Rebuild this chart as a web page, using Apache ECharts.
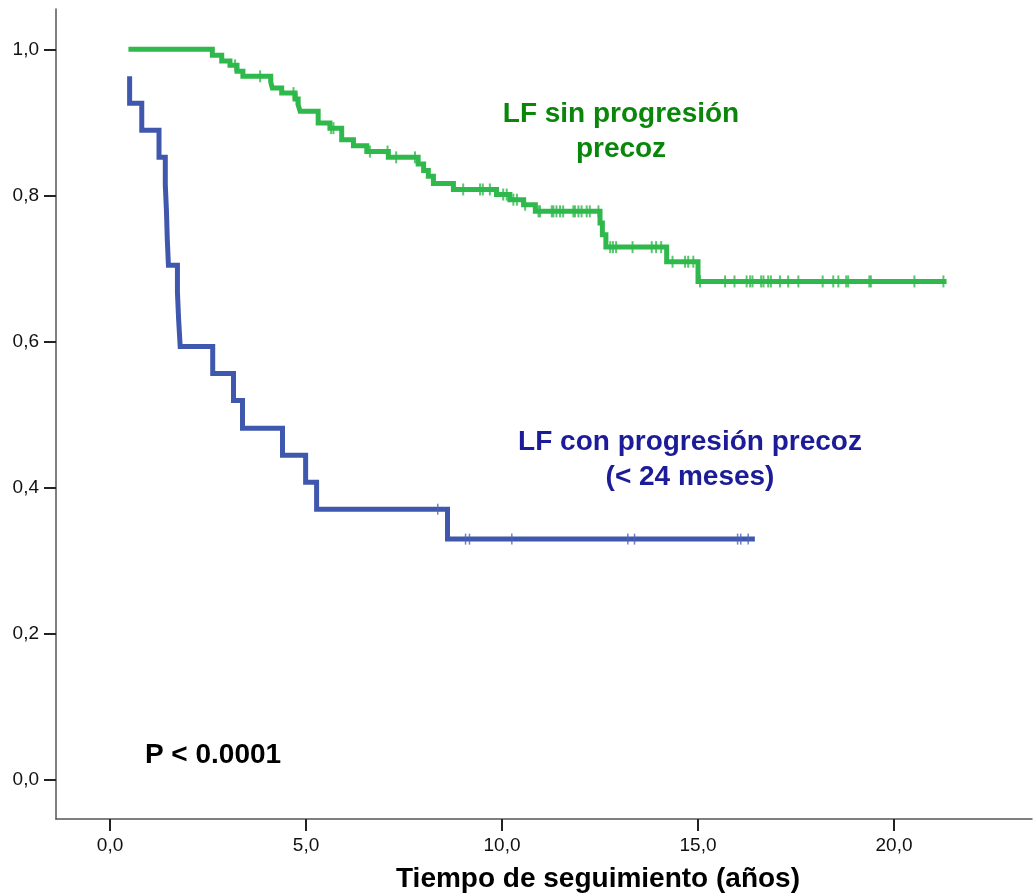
<!DOCTYPE html>
<html>
<head>
<meta charset="utf-8">
<script src="https://cdn.jsdelivr.net/npm/echarts@6/dist/echarts.min.js"></script>
<style>
  html, body { margin: 0; padding: 0; background: #fff; }
  #chart { width: 1035px; height: 893px; }
</style>
</head>
<body>
<div id="chart"></div>
<script>
// Axis ticks
const xTicks = [0, 5, 10, 15, 20];
const yTicks = [0, 0.2, 0.4, 0.6, 0.8, 1.0];

// Kaplan-Meier steps: LF sin progresión precoz (time in years, survival after each step)
const noProgTimes = [0.47, 2.61, 2.85, 3.06, 3.24, 3.39, 4.10, 4.14, 4.38, 4.72, 4.80, 4.85, 5.31, 5.61, 5.91, 6.21, 6.55, 7.10, 7.86, 8.00, 8.12, 8.25, 8.76, 9.86, 10.20, 10.55, 10.85, 12.50, 12.56, 12.65, 14.20, 15.00, 21.34];
const noProgSurv  = [1.000, 0.992, 0.984, 0.978, 0.970, 0.963, 0.955, 0.947, 0.940, 0.932, 0.924, 0.915, 0.899, 0.892, 0.876, 0.868, 0.860, 0.852, 0.843, 0.834, 0.826, 0.816, 0.808, 0.801, 0.794, 0.787, 0.778, 0.762, 0.746, 0.729, 0.709, 0.682, 0.682];
const noProgCensored = [3.19, 3.83, 4.68, 4.76, 5.64, 5.70, 6.63, 7.08, 7.30, 7.78,
  9.01, 9.44, 9.51, 9.69, 10.03, 10.12, 10.29, 10.38, 10.59,
  10.93, 10.97, 11.27, 11.31, 11.39, 11.48, 11.56, 11.82, 11.86, 11.95, 12.03, 12.16, 12.24, 12.46,
  12.76, 12.83, 12.91, 13.33, 13.82, 13.93, 14.06,
  14.35, 14.67, 14.75, 14.88,
  15.05, 15.69, 15.93, 16.24, 16.33, 16.39, 16.61, 16.67, 16.79, 16.86, 17.09, 17.30, 17.56,
  18.18, 18.45, 18.58, 18.78, 18.83, 19.37, 19.41, 20.52, 21.26];

// Kaplan-Meier steps: LF con progresión precoz (< 24 meses)
const earlyTimes = [0.50, 0.50, 0.81, 1.25, 1.41, 1.44, 1.46, 1.49, 1.72, 1.75, 1.79, 2.62, 3.15, 3.38, 4.40, 4.99, 5.27, 8.61, 16.45];
const earlySurv  = [0.963, 0.926, 0.889, 0.852, 0.815, 0.778, 0.741, 0.704, 0.667, 0.630, 0.593, 0.556, 0.519, 0.481, 0.444, 0.407, 0.370, 0.329, 0.329];
const earlyCensored = [8.36, 9.07, 9.17, 10.25, 13.21, 13.38, 16.01, 16.09, 16.28];

const FONT = '"Liberation Sans", Arial, Helvetica, sans-serif';
const GREEN = '#2fb84b';
const BLUE = '#3f58ad';

function stepPoints(times, surv) {
  return times.map((t, i) => [t, surv[i]]);
}
function survivalAt(times, surv, t) {
  let s = surv[0];
  for (let i = 0; i < times.length; i++) {
    if (times[i] <= t) s = surv[i]; else break;
  }
  return s;
}
function censorPoints(censored, times, surv) {
  return censored.map(t => [t, survivalAt(times, surv, t)]);
}
const decimalComma = v => v.toFixed(1).replace('.', ',');

const chart = echarts.init(document.getElementById('chart'), null, { renderer: 'canvas' });

chart.setOption({
  backgroundColor: '#ffffff',
  animation: false,
  grid: { left: 56, right: 3, top: 9, bottom: 74, containLabel: false },
  xAxis: {
    type: 'value',
    min: -1.378,
    max: 23.52,
    splitLine: { show: false },
    axisLine: { onZero: false, lineStyle: { color: '#555', width: 1.5 } },
    axisTick: { customValues: xTicks, length: 12, lineStyle: { color: '#222', width: 2 } },
    axisLabel: {
      customValues: xTicks, formatter: decimalComma,
      fontFamily: FONT, fontSize: 19, color: '#111', margin: 17
    }
  },
  yAxis: {
    type: 'value',
    min: -0.0544,
    max: 1.0552,
    splitLine: { show: false },
    axisLine: { show: true, onZero: false, lineStyle: { color: '#555', width: 1.5 } },
    axisTick: { show: true, customValues: yTicks, length: 12, lineStyle: { color: '#222', width: 2 } },
    axisLabel: {
      customValues: yTicks, formatter: decimalComma,
      fontFamily: FONT, fontSize: 19, color: '#111', margin: 17
    }
  },
  series: [
    {
      name: 'LF sin progresión precoz',
      type: 'line',
      step: 'end',
      showSymbol: false,
      data: stepPoints(noProgTimes, noProgSurv),
      lineStyle: { color: GREEN, width: 5, cap: 'butt', join: 'miter' },
      z: 3
    },
    {
      name: 'LF con progresión precoz',
      type: 'line',
      step: 'end',
      showSymbol: false,
      data: stepPoints(earlyTimes, earlySurv),
      lineStyle: { color: BLUE, width: 5, cap: 'butt', join: 'miter' },
      z: 3
    },
    {
      name: 'Censurados sin progresión',
      type: 'scatter',
      symbol: 'rect',
      symbolSize: [2, 12],
      data: censorPoints(noProgCensored, noProgTimes, noProgSurv),
      itemStyle: { color: GREEN },
      z: 4
    },
    {
      name: 'Censurados con progresión',
      type: 'scatter',
      symbol: 'rect',
      symbolSize: [1.5, 11],
      data: censorPoints(earlyCensored, earlyTimes, earlySurv),
      itemStyle: { color: '#4a64b8' },
      z: 4
    }
  ],
  graphic: [
    { type: 'text', x: 621, y: 114, style: { text: 'LF sin progresión', font: 'bold 28px ' + FONT, fill: '#0a870a', align: 'center', verticalAlign: 'middle' } },
    { type: 'text', x: 621, y: 149, style: { text: 'precoz', font: 'bold 28px ' + FONT, fill: '#0a870a', align: 'center', verticalAlign: 'middle' } },
    { type: 'text', x: 690, y: 442, style: { text: 'LF con progresión precoz', font: 'bold 28px ' + FONT, fill: '#1c1c98', align: 'center', verticalAlign: 'middle' } },
    { type: 'text', x: 690, y: 477, style: { text: '(< 24 meses)', font: 'bold 28px ' + FONT, fill: '#1c1c98', align: 'center', verticalAlign: 'middle' } },
    { type: 'text', x: 213, y: 755, style: { text: 'P < 0.0001', font: 'bold 28px ' + FONT, fill: '#000', align: 'center', verticalAlign: 'middle' } },
    { type: 'text', x: 598, y: 879, style: { text: 'Tiempo de seguimiento (años)', font: 'bold 28px ' + FONT, fill: '#000', align: 'center', verticalAlign: 'middle' } }
  ]
});
</script>
</body>
</html>
